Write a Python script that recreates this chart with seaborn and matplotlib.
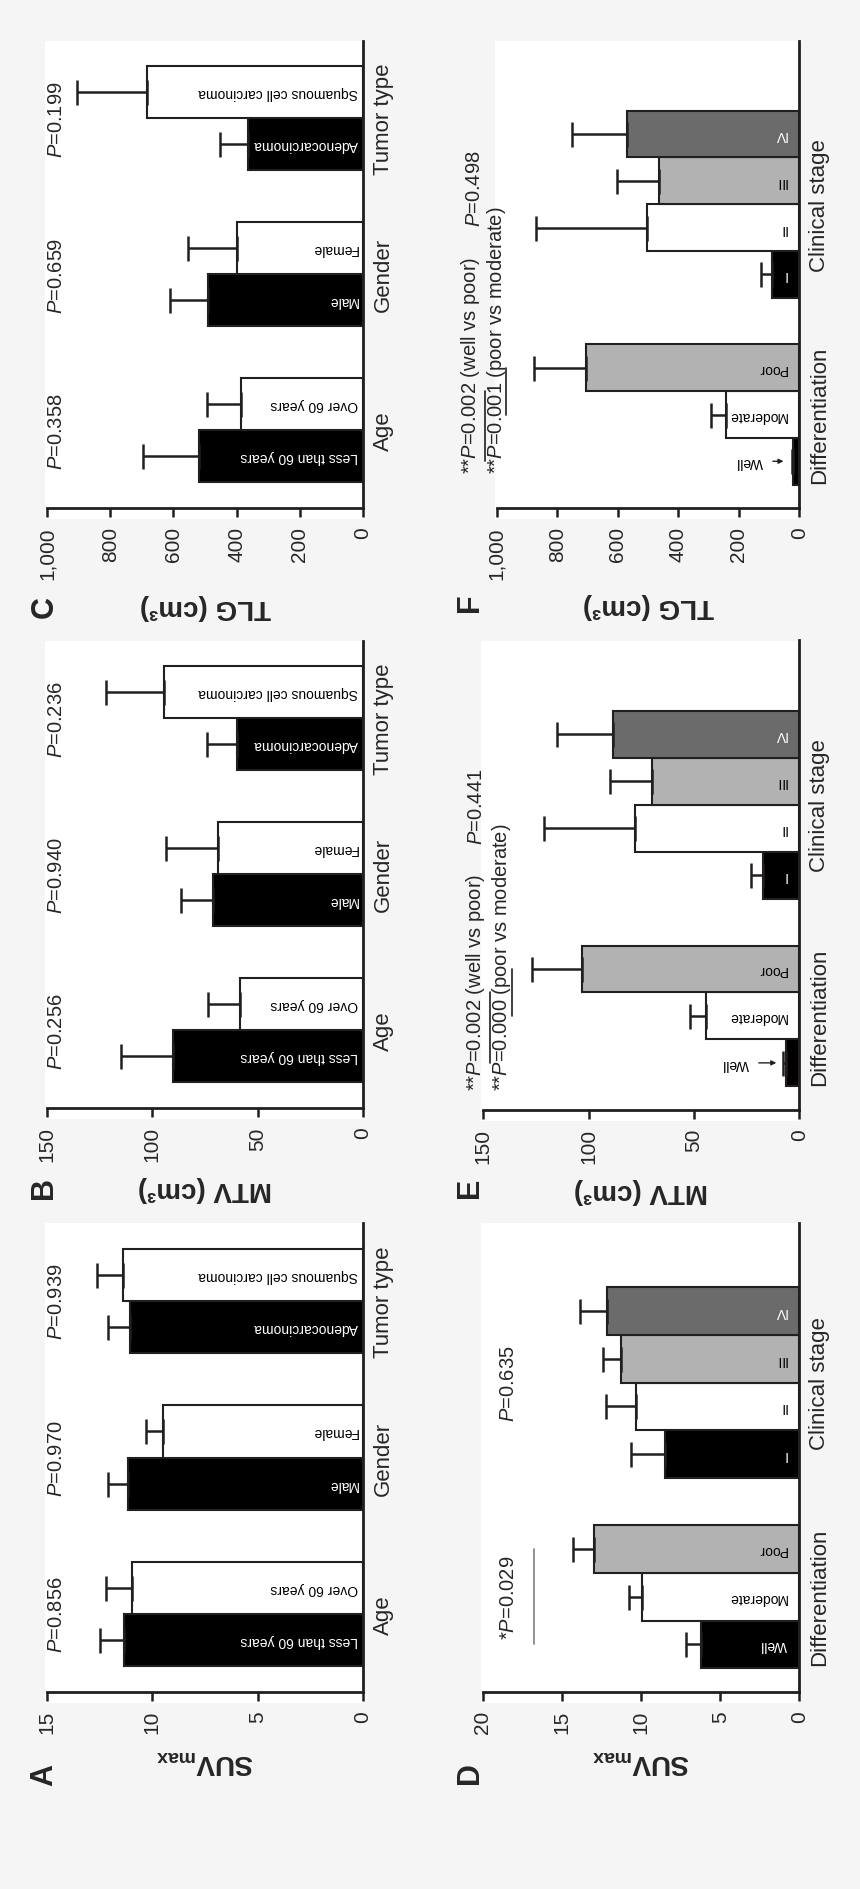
import matplotlib
matplotlib.use("Agg")
import matplotlib.pyplot as plt
from matplotlib.patches import Rectangle
import seaborn as sns
import pandas as pd

# ------------------------------------------------------------------ data
demo_labels = ["Less than 60 years", "Over 60 years", "Male", "Female",
               "Adenocarcinoma", "Squamous cell carcinoma"]
demo_pos = [0, 1, 3, 4, 6, 7]
demo_groups = ["Age", "Gender", "Tumor type"]
demo_group_pos = [0.5, 3.5, 6.5]
demo_colors = ["#000000", "#ffffff", "#000000", "#ffffff", "#000000", "#ffffff"]

suv_demo_mean = [11.35, 10.98, 11.17, 9.48, 11.06, 11.40]
suv_demo_err = [1.13, 1.22, 0.92, 0.84, 1.06, 1.24]
suv_demo_p = ["0.856", "0.970", "0.939"]

mtv_demo_mean = [90.0, 58.4, 71.0, 68.7, 60.0, 94.5]
mtv_demo_err = [25.0, 15.0, 15.4, 24.9, 14.2, 27.5]
mtv_demo_p = ["0.256", "0.940", "0.236"]

tlg_demo_mean = [519, 387, 490, 400, 363, 682]
tlg_demo_err = [178, 108, 121, 155, 89, 222]
tlg_demo_p = ["0.358", "0.659", "0.199"]

clin_labels = ["Well", "Moderate", "Poor", "I", "II", "III", "IV"]
clin_pos = [0, 1, 2, 4, 5, 6, 7]
clin_groups = ["Differentiation", "Clinical stage"]
clin_group_pos = [1.0, 5.5]
clin_colors = ["#000000", "#ffffff", "#b2b2b2", "#000000", "#ffffff", "#b2b2b2", "#6b6b6b"]

suv_clin_mean = [6.24, 9.93, 12.97, 8.50, 10.35, 11.30, 12.15]
suv_clin_err = [0.93, 0.85, 1.37, 2.15, 1.90, 1.10, 1.69]

mtv_clin_mean = [6.3, 44.3, 103.0, 17.1, 78.0, 70.1, 88.3]
mtv_clin_err = [1.3, 7.6, 24.0, 6.0, 43.0, 19.7, 26.8]

tlg_clin_mean = [20, 242, 706, 89, 502, 463, 568]
tlg_clin_err = [5, 50, 170, 38, 368, 140, 184]

suv_ticks = [0, 5, 10, 15]
suv_ticks_d = [0, 5, 10, 15, 20]
mtv_ticks = [0, 50, 100, 150]
tlg_ticks = [0, 200, 400, 600, 800, 1000]
tlg_ticklabels = ["0", "200", "400", "600", "800", "1,000"]

# ------------------------------------------------------------------ style
sns.set_style("white")
plt.rcParams["font.family"] = ["Liberation Sans", "DejaVu Sans"]
plt.rcParams["mathtext.fontset"] = "custom"
plt.rcParams["mathtext.rm"] = "Liberation Sans"
plt.rcParams["mathtext.it"] = "Liberation Sans:italic"
plt.rcParams["mathtext.bf"] = "Liberation Sans:bold"

INK = "#231f20"
BG = "#f5f5f5"
W, H = 860, 1890

fig = plt.figure(figsize=(W / 100, H / 100), dpi=100)
fig.patch.set_facecolor(BG)


def px_axes(x0, y0, x1, y1):
    ax = fig.add_axes([x0 / W, 1 - y1 / H, (x1 - x0) / W, (y1 - y0) / H])
    # white backing that also covers the tick marks, as in the original
    fig.add_artist(Rectangle(((x0 - 2) / W, 1 - (y1 + 11) / H),
                             (x1 - x0 + 2) / W, (y1 - y0 + 11) / H,
                             transform=fig.transFigure, facecolor="white",
                             edgecolor="none", zorder=-5))
    return ax


def draw_panel(ax, labels, pos, colors, means, errs, xmax, ticks, ticklabels,
               xlabel, ylim, groups, group_pos, label_off, skip_label=()):
    df = pd.DataFrame({"val": means, "pos": pos, "lab": labels})
    pal = dict(zip(labels, colors))
    sns.barplot(data=df, x="val", y="pos", hue="lab", palette=pal, orient="h",
                native_scale=True, width=1.0, saturation=1, errorbar=None,
                legend=False, edgecolor=INK, linewidth=1.5, ax=ax)
    ax.errorbar(means, pos, xerr=[[0] * len(errs), errs], fmt="none",
                ecolor=INK, elinewidth=1.8, capsize=9, capthick=1.8, zorder=3)
    ax.set_xlim(xmax, 0)
    ax.set_ylim(*ylim)
    ax.set_facecolor("white")
    for s in ("left", "top"):
        ax.spines[s].set_visible(False)
    for s in ("right", "bottom"):
        ax.spines[s].set_visible(True)
        ax.spines[s].set_linewidth(2.0)
        ax.spines[s].set_color(INK)
    ax.set_xticks(ticks)
    ax.set_xticklabels(ticklabels, rotation=90, fontsize=15)
    ax.tick_params(axis="x", direction="out", length=6.5, width=1.8,
                   pad=6.5, color=INK, bottom=True)
    ax.yaxis.tick_right()
    ax.set_yticks(group_pos)
    ax.set_yticklabels(groups, rotation=90, va="center", fontsize=16)
    ax.tick_params(axis="y", length=0, pad=7, right=True, left=False)
    ax.set_ylabel("")
    ax.set_xlabel(xlabel, rotation=180, fontsize=20, fontweight="bold",
                  labelpad=10)
    for lab, p, c in zip(labels, pos, colors):
        if lab in skip_label:
            continue
        tc = "white" if c in ("#000000", "#6b6b6b") else "black"
        ax.annotate(lab, xy=(0, p), xytext=(-label_off, 0),
                    textcoords="offset points", rotation=180, ha="right",
                    va="center", fontsize=10, color=tc, zorder=4)


def p_text(ax, x, y, s, **kw):
    ax.text(x, y, s, rotation=90, ha="center", va="center", fontsize=14.5,
            clip_on=False, **kw)


SUV_LABEL = r"$\mathbf{SUV}_{\mathbf{max}}$"
MTV_LABEL = "MTV (cm³)"
TLG_LABEL = "TLG (cm³)"

# ---------------- panels A, B, C (demographics)
axA = px_axes(47, 1224, 363, 1693)
axB = px_axes(47, 641.5, 363, 1109.3)
axC = px_axes(47, 41.5, 363, 509.3)

for ax, means, errs, xmax, ticks, tl, lab, pv in [
        (axA, suv_demo_mean, suv_demo_err, 15, suv_ticks,
         [str(t) for t in suv_ticks], SUV_LABEL, suv_demo_p),
        (axB, mtv_demo_mean, mtv_demo_err, 150, mtv_ticks,
         [str(t) for t in mtv_ticks], MTV_LABEL, mtv_demo_p),
        (axC, tlg_demo_mean, tlg_demo_err, 1000, tlg_ticks,
         tlg_ticklabels, TLG_LABEL, tlg_demo_p)]:
    draw_panel(ax, demo_labels, demo_pos, demo_colors, means, errs, xmax,
               ticks, tl, lab, (-1, 8), demo_groups, demo_group_pos, 3.5)
    for gp, p in zip(demo_group_pos, pv):
        p_text(ax, xmax * 0.97, gp, r"$\mathit{P}$=" + p)

# ---------------- panel D
axD = px_axes(483, 1224, 799.3, 1693)
draw_panel(axD, clin_labels, clin_pos, clin_colors, suv_clin_mean,
           suv_clin_err, 20, suv_ticks_d, [str(t) for t in suv_ticks_d],
           SUV_LABEL, (-1, 8.85), clin_groups, clin_group_pos, 9)
p_text(axD, 20 * 0.92, clin_pos[1], r"*$\mathit{P}$=0.029")
axD.plot([20 * 0.84] * 2, [clin_pos[0], clin_pos[2]], color="#8a8a8a",
         lw=1.3, clip_on=False)
p_text(axD, 20 * 0.92, clin_group_pos[1], r"$\mathit{P}$=0.635")

# ---------------- panels E, F
axE = px_axes(483.3, 641.5, 799.3, 1110.8)
axF = px_axes(496.7, 41.5, 799.3, 509)

for ax, means, errs, xmax, ticks, tl, lab, p1, p2, pst, fr, ystart, pst_y, well_off in [
        (axE, mtv_clin_mean, mtv_clin_err, 150, mtv_ticks,
         [str(t) for t in mtv_ticks], MTV_LABEL, "0.002", "0.000", "0.441",
         (1.024, 0.943, 1.021, 0.979, 0.91), -0.58, 5.48, 27),
        (axF, tlg_clin_mean, tlg_clin_err, 1000, tlg_ticks, tlg_ticklabels,
         TLG_LABEL, "0.002", "0.001", "0.498",
         (1.086, 1.0, 1.075, 1.039, 0.969), -0.25, 5.85, 22)]:
    draw_panel(ax, clin_labels, clin_pos, clin_colors, means, errs, xmax,
               ticks, tl, lab, (-1, 9), clin_groups, clin_group_pos, 9,
               skip_label=("Well",))
    ax.text(xmax * fr[0], ystart, r"**$\mathit{P}$=" + p1 + " (well vs poor)",
            rotation=90, ha="center", va="bottom", fontsize=14.5, clip_on=False)
    ax.text(xmax * fr[1], ystart, r"**$\mathit{P}$=" + p2 + " (poor vs moderate)",
            rotation=90, ha="center", va="bottom", fontsize=14.5, clip_on=False)
    p_text(ax, xmax * fr[2], pst_y, r"$\mathit{P}$=" + pst)
    ax.plot([xmax * fr[3]] * 2, [clin_pos[0], 1.5], color=INK, lw=1.2,
            clip_on=False)
    ax.plot([xmax * fr[4]] * 2, [clin_pos[1], clin_pos[2]], color=INK, lw=1.2,
            clip_on=False)
    ax.annotate("Well", xy=(means[0], clin_pos[0]), xytext=(-well_off, 0),
                textcoords="offset points", rotation=180, ha="right",
                va="center", fontsize=10, color="black",
                arrowprops=dict(arrowstyle="-|>", color=INK, lw=1.0,
                                mutation_scale=7, shrinkA=5, shrinkB=7))

# ---------------- panel letters
for letter, x, y in [("A", 44.5, 1775), ("B", 44.5, 1188), ("C", 44.5, 607),
                     ("D", 470, 1773), ("E", 470, 1188), ("F", 470, 603)]:
    fig.text(x / W, 1 - y / H, letter, rotation=90, ha="center", va="center",
             fontsize=22, fontweight="bold")

fig.savefig("out.png", dpi=100, facecolor=fig.get_facecolor())
